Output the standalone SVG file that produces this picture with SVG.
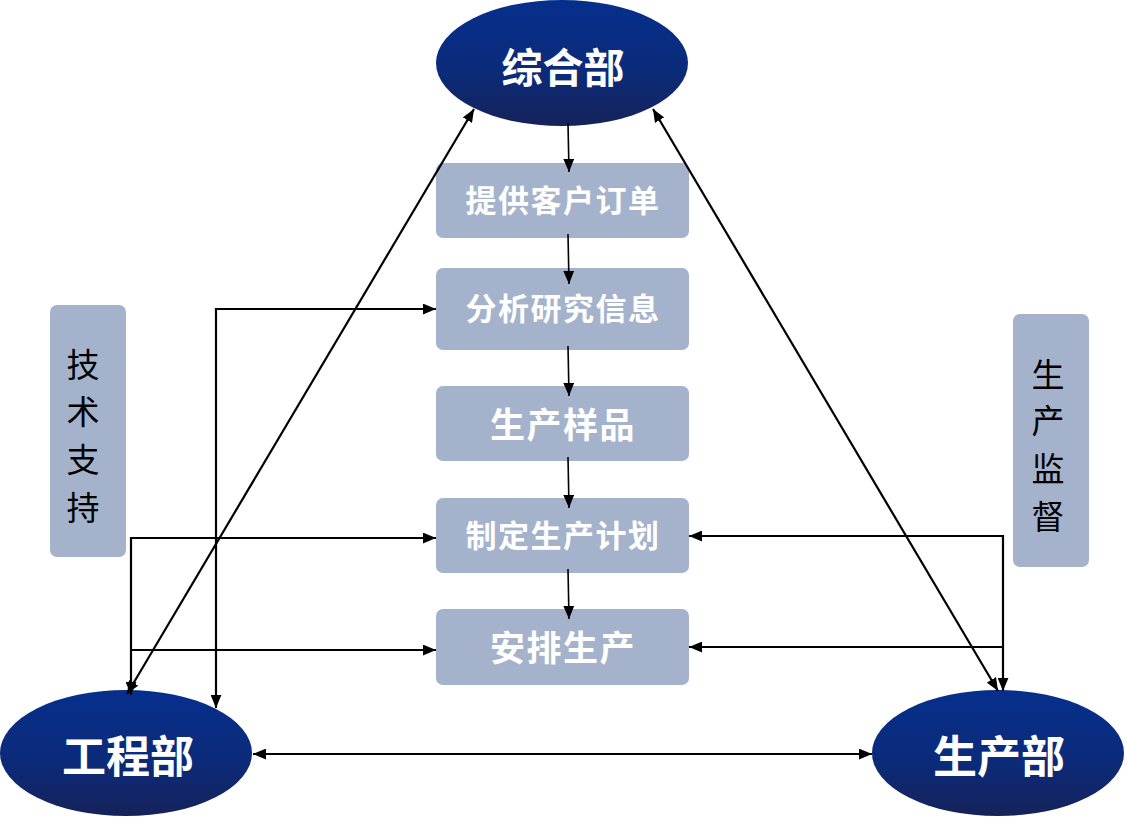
<svg xmlns="http://www.w3.org/2000/svg" width="1125" height="817" viewBox="0 0 1125 817">
<defs>
<linearGradient id="eg" x1="0" y1="0" x2="0" y2="1">
<stop offset="0" stop-color="#062f8c"/>
<stop offset="0.55" stop-color="#0b2b7a"/>
<stop offset="1" stop-color="#15225a"/>
</linearGradient>
<marker id="ah" viewBox="0 0 12 10" refX="12" refY="5" markerWidth="13" markerHeight="11" markerUnits="userSpaceOnUse" orient="auto-start-reverse">
<path d="M0,0 L12,5 L0,10 Z" fill="#000"/>
</marker>
</defs>
<style>
.ell{fill:url(#eg)}
.box{fill:#a4b3cb}
.et{font-family:"Noto Sans CJK SC","Liberation Sans",sans-serif;font-weight:bold;fill:#fff;text-anchor:middle}
.bt{font-family:"Noto Sans CJK SC","Liberation Sans",sans-serif;font-weight:bold;fill:#fff;text-anchor:middle}
.st{font-family:"Noto Sans CJK SC","Liberation Sans",sans-serif;font-size:33px;fill:#000;text-anchor:middle}
.c{fill:none;stroke:#000;stroke-width:2.2}
.cs{fill:none;stroke:#000;stroke-width:1.6}
</style>
<rect width="1125" height="817" fill="#fff"/>
<g id="side-left">
<rect class="box" x="50" y="305" width="76" height="252" rx="7"/>
<text class="st" x="83" y="377">技</text>
<text class="st" x="83" y="424">术</text>
<text class="st" x="83" y="472">支</text>
<text class="st" x="83" y="520">持</text>
</g>
<g id="side-right">
<rect class="box" x="1013" y="314" width="76" height="253" rx="7"/>
<text class="st" x="1048" y="387">生</text>
<text class="st" x="1048" y="433">产</text>
<text class="st" x="1048" y="481">监</text>
<text class="st" x="1048" y="529">督</text>
</g>
<g id="zonghebu">
<ellipse class="ell" cx="562" cy="63" rx="126" ry="63"/>
<text class="et" x="563" y="83" font-size="41">综合部</text>
</g>
<g id="gongchengbu">
<ellipse class="ell" cx="126" cy="753" rx="126" ry="63"/>
<text class="et" x="128" y="773" font-size="44">工程部</text>
</g>
<g id="shengchanbu">
<ellipse class="ell" cx="998" cy="753" rx="126" ry="63"/>
<text class="et" x="999" y="773" font-size="44">生产部</text>
</g>
<g id="b1">
<rect class="box" x="436" y="163" width="253" height="75" rx="7"/>
<text class="bt" x="563" y="212" font-size="31" letter-spacing="1.5">提供客户订单</text>
</g>
<g id="b2">
<rect class="box" x="436" y="268" width="253" height="82" rx="7"/>
<text class="bt" x="563" y="320" font-size="31" letter-spacing="1.5">分析研究信息</text>
</g>
<g id="b3">
<rect class="box" x="436" y="386" width="253" height="75" rx="7"/>
<text class="bt" x="563" y="438" font-size="35" letter-spacing="1.5">生产样品</text>
</g>
<g id="b4">
<rect class="box" x="436" y="498" width="253" height="75" rx="7"/>
<text class="bt" x="563" y="547" font-size="31" letter-spacing="1.5">制定生产计划</text>
</g>
<g id="b5">
<rect class="box" x="436" y="609" width="253" height="76" rx="7"/>
<text class="bt" x="563" y="661" font-size="35" letter-spacing="1.5">安排生产</text>
</g>
<g id="connectors">
<path class="cs" d="M568,123 L569,172" marker-end="url(#ah)"/>
<path class="cs" d="M568,234 L569,284" marker-end="url(#ah)"/>
<path class="cs" d="M568,346 L569,396" marker-end="url(#ah)"/>
<path class="cs" d="M568,457 L569,508" marker-end="url(#ah)"/>
<path class="cs" d="M568,569 L569,619" marker-end="url(#ah)"/>
<path class="c" d="M127,694 L474,109" marker-start="url(#ah)" marker-end="url(#ah)"/>
<path class="c" d="M653,109 L998,691" marker-start="url(#ah)" marker-end="url(#ah)"/>
<path class="c" d="M253,754 L872,754" marker-start="url(#ah)" marker-end="url(#ah)"/>
<path class="c" d="M216,708 L216,309 L436,309" marker-start="url(#ah)" marker-end="url(#ah)"/>
<path class="c" d="M131,695 L131,538 L436,538" marker-start="url(#ah)" marker-end="url(#ah)"/>
<path class="c" d="M131,650 L436,650" marker-end="url(#ah)"/>
<path class="c" d="M1003,691 L1003,536 L689,536" marker-start="url(#ah)" marker-end="url(#ah)"/>
<path class="c" d="M1003,647 L689,647" marker-end="url(#ah)"/>
</g>
</svg>
